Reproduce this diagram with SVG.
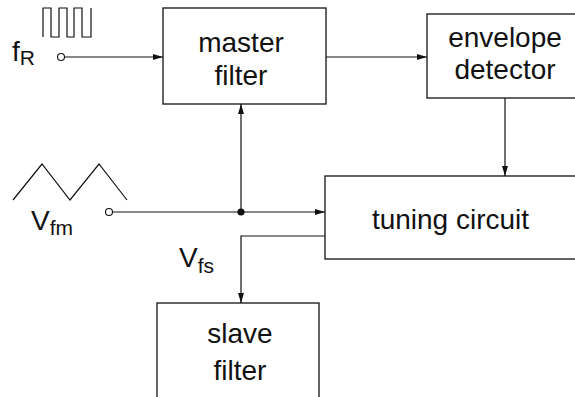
<svg xmlns="http://www.w3.org/2000/svg" width="575" height="397" viewBox="0 0 575 397">
  <defs>
    <marker id="arrow" viewBox="0 0 10 6" refX="10" refY="3" markerWidth="10" markerHeight="6" markerUnits="userSpaceOnUse" orient="auto">
      <path d="M0,0 L10,3 L0,6 Z" fill="#111"/>
    </marker>
  </defs>
  <style>
    .box { fill: #fff; stroke: #111; stroke-width: 1.3; }
    .wire { fill: none; stroke: #111; stroke-width: 1.2; }
    .term { fill: #fff; stroke: #111; stroke-width: 1.1; }
    .lbl { font-family: "Liberation Sans", Arial, sans-serif; font-size: 28px; fill: #111; text-anchor: middle; }
    .sym { font-family: "Liberation Sans", Arial, sans-serif; font-size: 28px; fill: #111; }
    .sub { font-size: 21px; }
  </style>
  <rect width="575" height="397" fill="#fff"/>

  <!-- signal sources -->
  <g id="source-fR">
    <path class="wire" d="M43,37 V8 H51 V37 H59 V8 H67 V37 H74 V8 H82 V37 H91 V8"/>
    <text class="sym" x="12" y="61">f<tspan class="sub" dy="4">R</tspan></text>
    <circle class="term" cx="61" cy="57" r="3.5"/>
  </g>
  <g id="source-Vfm">
    <path class="wire" d="M13,200 L42,164 L70,200 L99,164 L127,200"/>
    <text class="sym" x="31" y="230">V<tspan class="sub" dy="5">fm</tspan></text>
    <circle class="term" cx="109" cy="212" r="3.5"/>
  </g>
  <g id="label-Vfs">
    <text class="sym" x="179" y="267">V<tspan class="sub" dy="6">fs</tspan></text>
  </g>

  <!-- blocks -->
  <g id="master-filter">
    <rect class="box" x="163" y="8" width="163" height="96"/>
    <text class="lbl" x="241" y="52">master</text>
    <text class="lbl" x="241" y="85">filter</text>
  </g>
  <g id="envelope-detector">
    <rect class="box" x="427" y="14" width="156" height="84"/>
    <text class="lbl" x="505" y="47">envelope</text>
    <text class="lbl" x="505" y="79">detector</text>
  </g>
  <g id="tuning-circuit">
    <rect class="box" x="325" y="176" width="256" height="83"/>
    <text class="lbl" x="450.5" y="229">tuning circuit</text>
  </g>
  <g id="slave-filter">
    <rect class="box" x="157" y="303" width="162" height="110"/>
    <text class="lbl" x="240" y="343">slave</text>
    <text class="lbl" x="240" y="380">filter</text>
  </g>

  <!-- connectors -->
  <g id="connectors">
    <line class="wire" x1="64.5" y1="57" x2="163" y2="57" marker-end="url(#arrow)"/>
    <line class="wire" x1="326" y1="57" x2="427" y2="57" marker-end="url(#arrow)"/>
    <line class="wire" x1="505" y1="98" x2="505" y2="176" marker-end="url(#arrow)"/>
    <line class="wire" x1="112.5" y1="212" x2="325" y2="212" marker-end="url(#arrow)"/>
    <line class="wire" x1="241" y1="212" x2="241" y2="104" marker-end="url(#arrow)"/>
    <circle cx="241" cy="212" r="3.6" fill="#111"/>
    <polyline class="wire" points="325,236 241,236 241,303" marker-end="url(#arrow)"/>
  </g>
</svg>
